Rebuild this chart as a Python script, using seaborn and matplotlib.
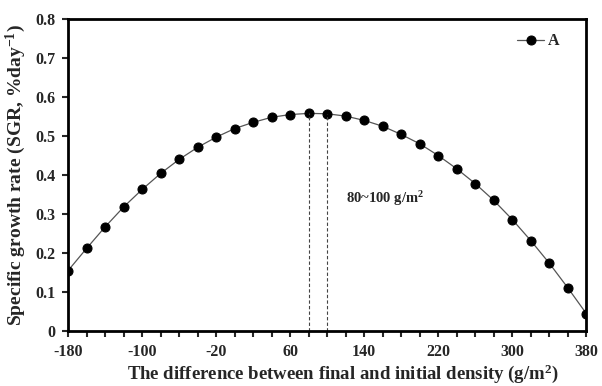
import numpy as np
import matplotlib
matplotlib.use("Agg")
import matplotlib.pyplot as plt
import seaborn as sns
from matplotlib.ticker import MultipleLocator

# density difference (g/m2) and specific growth rate (%/day)
density_diff = [-180, -160, -140, -120, -100, -80, -60, -40, -20, 0, 20, 40, 60, 80,
                100, 120, 140, 160, 180, 200, 220, 240, 260, 280, 300, 320, 340, 360, 380]
sgr = [0.155, 0.212, 0.267, 0.318, 0.363, 0.404, 0.440, 0.471, 0.497, 0.519, 0.535,
       0.548, 0.555, 0.558, 0.557, 0.551, 0.540, 0.525, 0.504, 0.480, 0.450, 0.416,
       0.378, 0.335, 0.286, 0.232, 0.174, 0.111, 0.045]
optimum = [80, 100]
x_ticks = [-180, -100, -20, 60, 140, 220, 300, 380]
y_ticks = [0, 0.1, 0.2, 0.3, 0.4, 0.5, 0.6, 0.7, 0.8]
y_labels = ["0", "0.1", "0.2", "0.3", "0.4", "0.5", "0.6", "0.7", "0.8"]

sns.set_style("ticks", {"axes.spines.right": True, "axes.spines.top": True})
plt.rcParams["font.family"] = ["Liberation Serif", "DejaVu Serif"]
plt.rcParams["font.weight"] = "bold"
plt.rcParams["axes.unicode_minus"] = False
plt.rcParams["mathtext.fontset"] = "custom"
plt.rcParams["mathtext.rm"] = "Liberation Serif:bold"
plt.rcParams["mathtext.it"] = "Liberation Serif:bold"
plt.rcParams["mathtext.bf"] = "Liberation Serif:bold"

fig, ax = plt.subplots(figsize=(6.02, 3.86), dpi=100)
fig.subplots_adjust(left=0.113, right=0.974, top=0.951, bottom=0.142)

sns.lineplot(x=density_diff, y=sgr, ax=ax, color="#555555", linewidth=0.9,
             marker="o", markersize=6.5, markerfacecolor="black",
             markeredgecolor="black", label="A")

# dashed guides at the optimum range
for xv in optimum:
    yv = sgr[density_diff.index(xv)]
    ax.plot([xv, xv], [0, yv], color="#444444", linestyle=(0, (3, 2)), linewidth=0.8)

ax.text(120, 0.34, "80~100 g/m$^{2}$", fontsize=10.5, fontweight="bold", va="center")

ax.set_xlim(-180, 380)
ax.set_ylim(0, 0.8)
ax.set_xticks(x_ticks)
ax.set_yticks(y_ticks)
ax.set_yticklabels(y_labels)
ax.xaxis.set_minor_locator(MultipleLocator(20))
ax.tick_params(axis="both", which="major", direction="out", length=4, width=1.5,
               labelsize=11.5, pad=5)
ax.tick_params(axis="x", which="minor", direction="out", length=4, width=1.5)
for lab in ax.get_xticklabels() + ax.get_yticklabels():
    lab.set_fontweight("bold")

# full black box around the plot
for side in ["left", "right", "top", "bottom"]:
    ax.spines[side].set_visible(True)
    ax.spines[side].set_linewidth(2)
    ax.spines[side].set_color("black")
    ax.spines[side].set_zorder(6)

ax.set_xlabel("The difference between final and initial density (g/m$^{2}$)",
              fontsize=13.5, fontweight="bold", labelpad=1)
ax.xaxis.set_label_coords(0.53, -0.1)
ax.set_ylabel("Specific growth rate (SGR, %day$^{-1}$)",
              fontsize=14, fontweight="bold", labelpad=5)

leg = ax.legend(loc="upper right", bbox_to_anchor=(0.975, 1.0), frameon=False,
                fontsize=11.5, handlelength=1.7, handletextpad=0.2)
for t in leg.get_texts():
    t.set_fontweight("bold")

fig.savefig("out.png", dpi=100)
